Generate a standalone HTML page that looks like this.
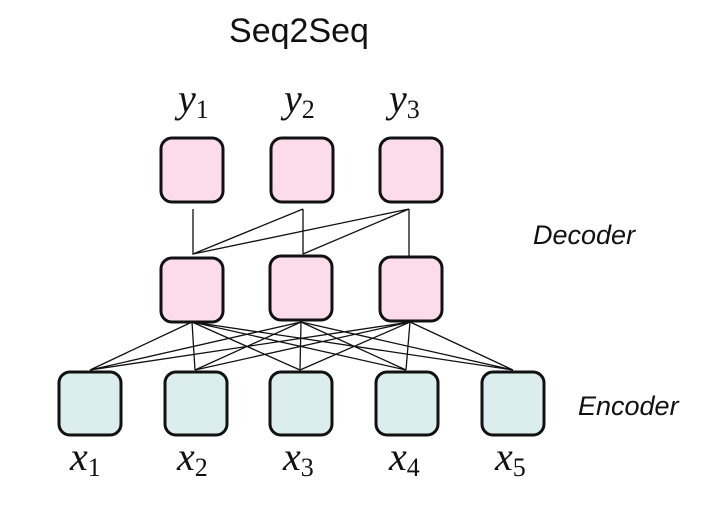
<!DOCTYPE html>
<html><head><style>
html,body{margin:0;padding:0;background:#fff;}
</style></head><body>
<svg width="719" height="527" viewBox="0 0 719 527" xmlns="http://www.w3.org/2000/svg">
<rect width="719" height="527" fill="#fff"/>
<text x="299" y="42" text-anchor="middle" font-family="Liberation Sans, sans-serif" font-size="34" fill="#111">Seq2Seq</text>
<g font-family="Liberation Serif, serif" font-size="40" fill="#111">
<text x="178" y="112" font-style="italic">y<tspan font-style="normal" font-size="26" dy="6">1</tspan></text>
<text x="284" y="112" font-style="italic">y<tspan font-style="normal" font-size="26" dy="6">2</tspan></text>
<text x="389" y="112" font-style="italic">y<tspan font-style="normal" font-size="26" dy="6">3</tspan></text>
<text x="70" y="470" font-style="italic">x<tspan font-style="normal" font-size="26" dy="6">1</tspan></text>
<text x="177" y="470" font-style="italic">x<tspan font-style="normal" font-size="26" dy="6">2</tspan></text>
<text x="283" y="470" font-style="italic">x<tspan font-style="normal" font-size="26" dy="6">3</tspan></text>
<text x="389" y="470" font-style="italic">x<tspan font-style="normal" font-size="26" dy="6">4</tspan></text>
<text x="495" y="470" font-style="italic">x<tspan font-style="normal" font-size="26" dy="6">5</tspan></text>
</g>
<g font-family="Liberation Sans, sans-serif" font-size="27" font-style="italic" fill="#111">
<text x="533" y="244">Decoder</text>
<text x="578" y="415">Encoder</text>
</g>
<g stroke="#111" stroke-width="1.3" fill="none">
<path d="M193 209V254 L303 209 M303 209V254 M193 254 L409 209 M303 254 L409 209 M409 209V257"/>
<path d="M192 322L90 370M192 322L195 370M192 322L300 370M192 322L406 370M192 322L513 370
M301 322L90 370M301 322L195 370M301 322L300 370M301 322L406 370M301 322L513 370
M410 322L90 370M410 322L195 370M410 322L300 370M410 322L406 370M410 322L513 370"/>
</g>
<g stroke="#111" stroke-width="3" fill="#fcdcea">
<rect x="161" y="138" width="62" height="64" rx="11"/>
<rect x="271" y="138" width="62" height="64" rx="11"/>
<rect x="380" y="138" width="62" height="64" rx="11"/>
<rect x="161" y="258" width="62" height="64" rx="11"/>
<rect x="270" y="256" width="62" height="64" rx="11"/>
<rect x="380" y="257" width="62" height="64" rx="11"/>
</g>
<g stroke="#111" stroke-width="3" fill="#dbeeed">
<rect x="59" y="372" width="62" height="63" rx="11"/>
<rect x="165" y="372" width="62" height="63" rx="11"/>
<rect x="270" y="372" width="62" height="63" rx="11"/>
<rect x="376" y="372" width="62" height="63" rx="11"/>
<rect x="482" y="372" width="62" height="63" rx="11"/>
</g>
</svg>
</body></html>
